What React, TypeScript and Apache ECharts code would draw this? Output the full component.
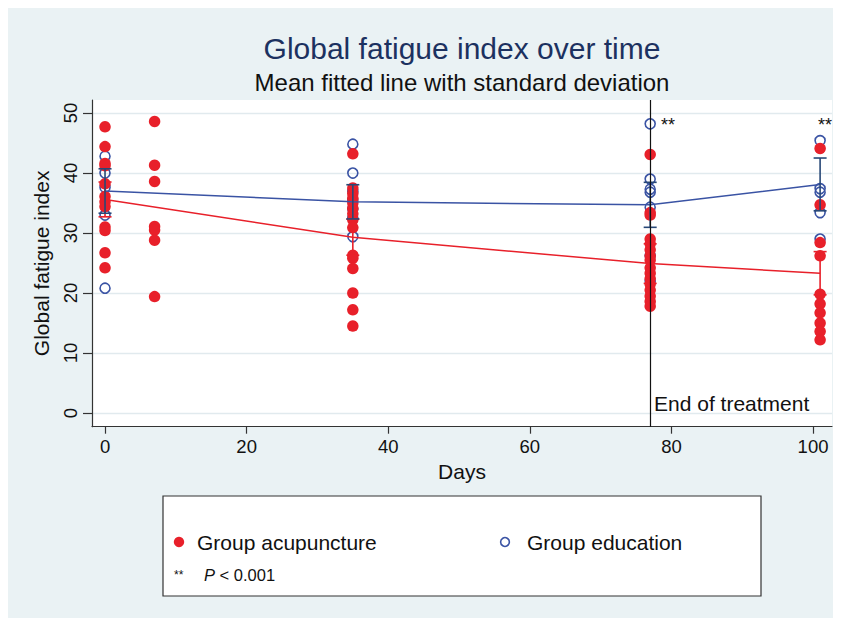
import React, { useEffect, useRef } from "react";
import * as echarts from "echarts";

// ---------- data ----------
const dayTicks = [0, 20, 40, 60, 80, 100];
const indexTicks = [0, 10, 20, 30, 40, 50];

const visitDays = [0, 7, 35, 77, 101];

// Group acupuncture individual scores per visit day
const acuDay0 = [47.7, 44.4, 41.6, 41.2, 38.2, 36.1, 35.2, 34.4, 31.0, 30.4, 26.7, 24.2];
const acuDay7 = [48.6, 41.3, 38.6, 31.1, 30.5, 28.8, 19.4];
const acuDay35 = [43.2, 37.5, 36.6, 35.8, 35.0, 34.1, 33.2, 32.2, 30.9, 26.3, 25.8, 24.1, 20.0, 17.2, 14.5];
const acuDay77 = [43.1, 33.4, 33.0, 29.0, 28.2, 27.2, 26.2, 25.5, 24.2, 23.3, 22.4, 21.5, 20.5, 19.5, 18.6, 17.8];
const acuDay101 = [44.1, 34.7, 28.4, 26.2, 19.8, 18.2, 16.7, 15.0, 13.6, 12.2];

// Group education individual scores per visit day
const eduDay0 = [42.8, 40.0, 37.6, 33.0, 20.8];
const eduDay7: number[] = [];
const eduDay35 = [44.8, 40.0, 36.9, 35.5, 34.0, 32.5, 29.4];
const eduDay77 = [48.2, 39.0, 37.3, 36.8, 34.3, 26.2, 22.0];
const eduDay101 = [45.4, 37.4, 36.8, 33.4, 29.0];

// fitted means and standard deviations
const meanDays = [0, 35, 77, 101];
const acuMean = [35.6, 29.3, 24.9, 23.3];
const acuSd = [2.9, 3.0, 3.3, 3.6];
const eduMean = [37.0, 35.2, 34.7, 38.1];
const eduSd = [3.7, 2.85, 3.75, 4.4];

const endOfTreatmentDay = 77;

// ---------- styles ----------
const FONT = "'Liberation Sans', Arial, Helvetica, sans-serif";
const RED = "#e8202a";
const BLUE = "#3a53a4";
const BLUE_BAR = "#284877";
const BG = "#eaf2f4";

const toPoints = (groups: number[][]) =>
  groups.flatMap((vals, i) => vals.map((v) => [visitDays[i], v]));

const acuPoints = toPoints([acuDay0, acuDay7, acuDay35, acuDay77, acuDay101]);
const eduPoints = toPoints([eduDay0, eduDay7, eduDay35, eduDay77, eduDay101]);

const errorBarSeries = (name: string, mean: number[], sd: number[], color: string) => ({
  name,
  type: "custom",
  z: 6,
  renderItem: (_params: any, api: any) => {
    const x = api.value(0);
    const lo = api.coord([x, api.value(1)]);
    const hi = api.coord([x, api.value(2)]);
    const half = 6.5;
    const style = { stroke: color, lineWidth: 1.6 };
    return {
      type: "group",
      children: [
        { type: "line", shape: { x1: lo[0], y1: lo[1], x2: hi[0], y2: hi[1] }, style },
        { type: "line", shape: { x1: lo[0] - half, y1: lo[1], x2: lo[0] + half, y2: lo[1] }, style },
        { type: "line", shape: { x1: hi[0] - half, y1: hi[1], x2: hi[0] + half, y2: hi[1] }, style },
      ],
    };
  },
  encode: { x: 0, y: [1, 2] },
  data: meanDays.map((d, i) => [d, mean[i] - sd[i], mean[i] + sd[i]]),
});

export default function App() {
  const ref = useRef<HTMLDivElement>(null);

  useEffect(() => {
    if (!ref.current) return;
    const chart = echarts.init(ref.current, undefined, { renderer: "svg" });

    const axisLineStyle = { color: "#333", width: 1.2 };

    const option: any = {
      animation: false,
      backgroundColor: BG,
      textStyle: { fontFamily: FONT },
      grid: {
        left: 84,
        top: 92,
        width: 740,
        height: 326.7,
        show: true,
        backgroundColor: "#ffffff",
        borderWidth: 0,
      },
      xAxis: {
        type: "value",
        min: -1.84,
        max: 102.68,
        name: "Days",
        nameLocation: "middle",
        nameGap: 34,
        nameTextStyle: { fontSize: 21, color: "#111", fontFamily: FONT },
        axisLine: { show: true, onZero: false, lineStyle: axisLineStyle },
        axisTick: { show: true, length: 7, customValues: dayTicks, lineStyle: axisLineStyle },
        axisLabel: { customValues: dayTicks, fontSize: 18.5, color: "#111", margin: 10, fontFamily: FONT },
        splitLine: { show: false },
      },
      yAxis: {
        type: "value",
        min: -2.28,
        max: 52.17,
        name: "Global fatigue index",
        nameLocation: "middle",
        nameRotate: 90,
        nameGap: 40,
        nameTextStyle: { fontSize: 21, color: "#111", fontFamily: FONT },
        axisLine: { show: true, onZero: false, lineStyle: axisLineStyle },
        axisTick: { show: true, length: 9, customValues: indexTicks, lineStyle: axisLineStyle },
        axisLabel: { customValues: indexTicks, rotate: 90, fontSize: 18.5, color: "#111", margin: 12, fontFamily: FONT },
        splitLine: { show: true, lineStyle: { color: "#e1eaee", width: 1.3 } },
      },
      series: [
        {
          name: "Group education",
          type: "scatter",
          symbol: "circle",
          symbolSize: 10,
          itemStyle: { color: "rgba(0,0,0,0)", borderColor: BLUE, borderWidth: 1.6, opacity: 1 },
          data: eduPoints,
          z: 2,
        },
        {
          name: "Group acupuncture",
          type: "scatter",
          symbol: "circle",
          symbolSize: 11.5,
          itemStyle: { color: RED, opacity: 1 },
          data: acuPoints,
          z: 3,
        },
        {
          name: "Acupuncture mean",
          type: "line",
          showSymbol: false,
          symbol: "none",
          lineStyle: { color: RED, width: 1.5 },
          data: meanDays.map((d, i) => [d, acuMean[i]]),
          z: 4,
        },
        {
          name: "Education mean",
          type: "line",
          showSymbol: false,
          symbol: "none",
          lineStyle: { color: BLUE, width: 1.5 },
          data: meanDays.map((d, i) => [d, eduMean[i]]),
          z: 4,
        },
        errorBarSeries("Acupuncture SD", acuMean, acuSd, RED),
        {
          ...errorBarSeries("Education SD", eduMean, eduSd, BLUE_BAR),
          markLine: {
            silent: true,
            symbol: ["none", "none"],
            label: { show: false },
            lineStyle: { color: "#111", width: 1.2, type: "solid" },
            data: [{ xAxis: endOfTreatmentDay }],
            z: 10,
          },
        },
      ],
      graphic: [
        {
          type: "text",
          x: 454,
          y: 40,
          style: { text: "Global fatigue index over time", fontSize: 30, fontFamily: FONT, fill: "#1c3160", align: "center", verticalAlign: "middle" },
        },
        {
          type: "text",
          x: 454,
          y: 74,
          style: { text: "Mean fitted line with standard deviation", fontSize: 24, fontFamily: FONT, fill: "#111", align: "center", verticalAlign: "middle" },
        },
        {
          type: "text",
          x: 646,
          y: 395,
          z: 20,
          style: { text: "End of treatment", fontSize: 21, fontFamily: FONT, fill: "#111", align: "left", verticalAlign: "middle" },
        },
        {
          type: "text",
          x: 660,
          y: 117,
          z: 20,
          style: { text: "**", fontSize: 18, fontFamily: FONT, fill: "#111", align: "center", verticalAlign: "middle" },
        },
        {
          type: "text",
          x: 817,
          y: 117,
          z: 20,
          style: { text: "**", fontSize: 18, fontFamily: FONT, fill: "#111", align: "center", verticalAlign: "middle" },
        },
        {
          type: "rect",
          shape: { x: 155, y: 488, width: 598, height: 100 },
          style: { fill: "#ffffff", stroke: "#333", lineWidth: 1.2 },
        },
        {
          type: "circle",
          shape: { cx: 171, cy: 534, r: 5.2 },
          style: { fill: RED },
        },
        {
          type: "text",
          x: 189,
          y: 534,
          style: { text: "Group acupuncture", fontSize: 21, fontFamily: FONT, fill: "#111", align: "left", verticalAlign: "middle" },
        },
        {
          type: "circle",
          shape: { cx: 497, cy: 534, r: 4.4 },
          style: { fill: "none", stroke: BLUE, lineWidth: 1.6 },
        },
        {
          type: "text",
          x: 519,
          y: 534,
          style: { text: "Group education", fontSize: 21, fontFamily: FONT, fill: "#111", align: "left", verticalAlign: "middle" },
        },
        {
          type: "text",
          x: 166,
          y: 567,
          style: { text: "**", fontSize: 12, fontFamily: FONT, fill: "#111", align: "left", verticalAlign: "middle" },
        },
        {
          type: "text",
          x: 196,
          y: 567,
          style: {
            text: "{i|P} < 0.001",
            fontSize: 16.5,
            fontFamily: FONT,
            fill: "#111",
            align: "left",
            verticalAlign: "middle",
            rich: { i: { fontStyle: "italic", fontSize: 16.5, fontFamily: FONT, fill: "#111" } },
          },
        },
      ],
    };

    chart.setOption(option);
    return () => chart.dispose();
  }, []);

  return <div ref={ref} style={{ width: 833, height: 610 }} />;
}
